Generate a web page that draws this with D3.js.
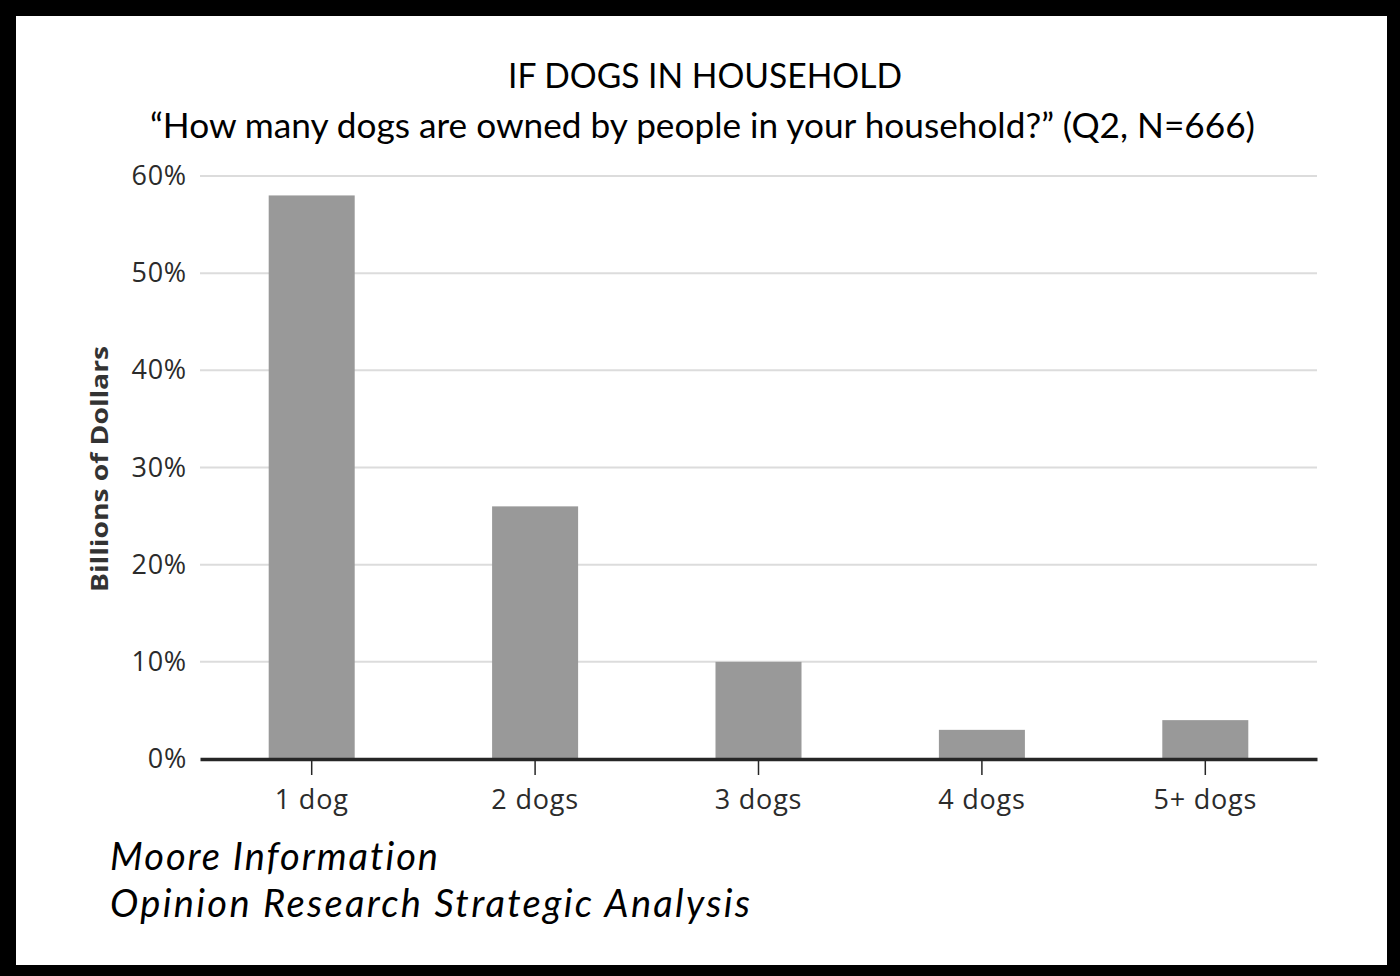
<!DOCTYPE html>
<html lang="en">
<head>
    <meta charset="UTF-8">
    <title>If dogs in household</title>
    <script src="https://d3js.org/d3.v7.min.js"></script>
    <style>
        body { margin: 0; background: #000; }
        svg { display: block; }
        text { font-variant-ligatures: none; }
    </style>
</head>
<body>
    <script>
        // data
        const categories = ["1 dog", "2 dogs", "3 dogs", "4 dogs", "5+ dogs"];
        const shares = [58, 26, 10, 3, 4];
        const yTicks = [0, 10, 20, 30, 40, 50, 60];

        const width = 1400;
        const height = 976;

        const svg = d3.select("body").append("svg")
            .attr("width", width)
            .attr("height", height);

        // black frame + white card
        svg.append("rect").attr("width", width).attr("height", height).attr("fill", "#000");
        svg.append("rect")
            .attr("x", 16).attr("y", 16)
            .attr("width", 1371).attr("height", 949)
            .attr("fill", "#fff");

        const x = d3.scaleBand()
            .domain(categories)
            .range([200, 1317])
            .paddingInner(0.615)
            .paddingOuter(0.3075);

        const y = d3.scaleLinear()
            .domain([0, 60])
            .range([759, 176]);

        // gridlines
        svg.append("g")
            .selectAll("line")
            .data(yTicks.filter(d => d > 0))
            .enter().append("line")
            .attr("x1", 200).attr("x2", 1317)
            .attr("y1", d => y(d)).attr("y2", d => y(d))
            .attr("stroke", "#dcdcdc")
            .attr("stroke-width", 2);

        // y axis labels
        const yAxis = svg.append("g")
            .attr("transform", "translate(200,0)")
            .call(d3.axisLeft(y).tickValues(yTicks).tickFormat(d => d + "%").tickSize(0).tickPadding(13));
        yAxis.select(".domain").remove();
        yAxis.selectAll("text")
            .attr("font-family", "'Open Sans', sans-serif")
            .attr("font-size", 27)
            .attr("letter-spacing", 0.8)
            .attr("fill", "#2b2b2b");

        // bars
        svg.append("g")
            .selectAll("rect")
            .data(shares)
            .enter().append("rect")
            .attr("x", (d, i) => x(categories[i]))
            .attr("y", d => y(d))
            .attr("width", x.bandwidth())
            .attr("height", d => y(0) - y(d))
            .attr("fill", "#999");

        // x axis
        const xAxis = svg.append("g")
            .attr("transform", `translate(0,${y(0)})`)
            .call(d3.axisBottom(x).tickSize(16).tickSizeOuter(0).tickPadding(15));
        xAxis.select(".domain")
            .attr("stroke", "#262626")
            .attr("stroke-width", 3.5);
        xAxis.selectAll(".tick line")
            .attr("stroke", "#262626")
            .attr("stroke-width", 1.5);
        xAxis.selectAll("text")
            .attr("font-family", "'Open Sans', sans-serif")
            .attr("font-size", 27)
            .attr("letter-spacing", 0.8)
            .attr("fill", "#2b2b2b");

        // y axis title
        svg.append("text")
            .attr("transform", "translate(108,469) rotate(-90)")
            .attr("text-anchor", "middle")
            .attr("font-family", "'Open Sans', sans-serif")
            .attr("font-weight", "bold")
            .attr("font-size", 24)
            .attr("textLength", 246)
            .attr("lengthAdjust", "spacingAndGlyphs")
            .attr("fill", "#333")
            .text("Billions of Dollars");

        // titles
        svg.append("text")
            .attr("x", 508).attr("y", 88)
            .attr("font-family", "Lato, sans-serif")
            .attr("font-size", 35)
            .attr("textLength", 394)
            .attr("lengthAdjust", "spacingAndGlyphs")
            .attr("fill", "#000")
            .text("IF DOGS IN HOUSEHOLD");

        svg.append("text")
            .attr("x", 150).attr("y", 138)
            .attr("font-family", "Lato, sans-serif")
            .attr("font-size", 35)
            .attr("textLength", 1105)
            .attr("lengthAdjust", "spacingAndGlyphs")
            .attr("fill", "#000")
            .text("\u201CHow many dogs are owned by people in your household?\u201D (Q2, N=666)");

        // source footer
        const footer = ["Moore Information", "Opinion Research Strategic Analysis"];
        const footLen = [328, 640];
        svg.append("g")
            .selectAll("text")
            .data(footer)
            .enter().append("text")
            .attr("x", 110)
            .attr("y", (d, i) => 870 + i * 47)
            .attr("font-family", "Lato, sans-serif")
            .attr("font-style", "italic")
            .attr("font-size", 38)
            .attr("textLength", (d, i) => footLen[i])
            .attr("lengthAdjust", "spacing")
            .attr("fill", "#000")
            .text(d => d);
    </script>
</body>
</html>
